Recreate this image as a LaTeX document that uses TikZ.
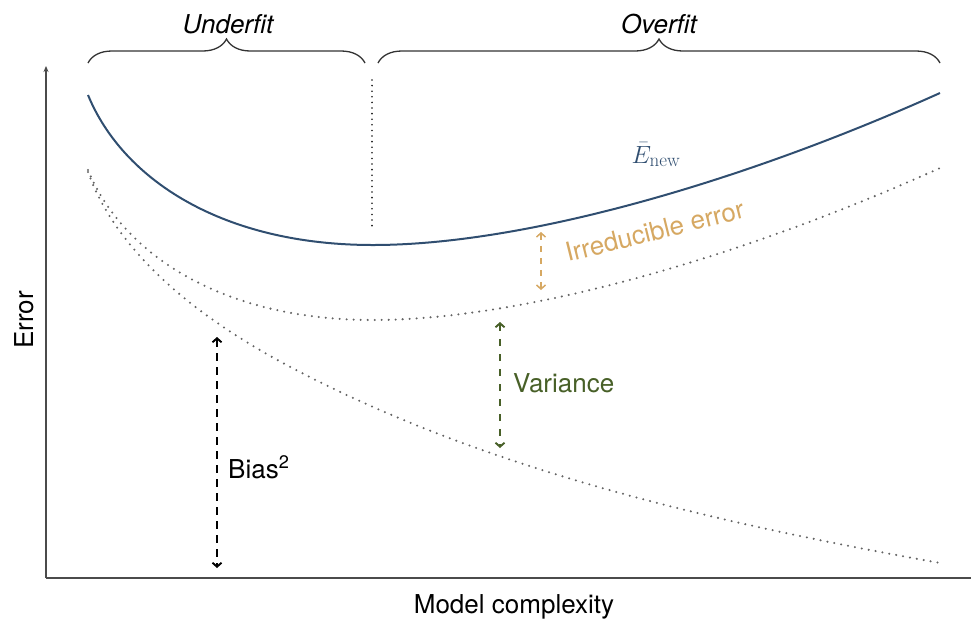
\documentclass[tikz,border=0pt]{standalone}
\usepackage{fontspec}
\usetikzlibrary{arrows.meta,decorations.pathreplacing}
\newfontfamily\helv{TeX Gyre Heros}
\definecolor{curveblue}{RGB}{48,78,112}
\definecolor{irrtan}{RGB}{214,168,98}
\definecolor{varolive}{RGB}{72,96,40}
\definecolor{dotgray}{RGB}{100,100,100}
\definecolor{axisgray}{RGB}{75,75,75}

\begin{document}
\begin{tikzpicture}[x=1pt,y=-1pt,
  lbl/.style={font=\helv\fontsize{26}{30}\selectfont, inner sep=0pt},
  ilbl/.style={font=\helv\itshape\fontsize{26}{30}\selectfont, inner sep=0pt},
  axisline/.style={draw=axisgray, line width=2pt},
  ecurve/.style={draw=curveblue, line width=2pt},
  dotcurve/.style={draw=dotgray, line width=2.3pt, line cap=round, dash pattern=on 0pt off 7pt},
  sepline/.style={draw=black!90, line width=1.8pt, line cap=round, dash pattern=on 0pt off 5.6pt},
  brace/.style={draw=black!80, line width=1.3pt, decorate, decoration={brace, amplitude=24pt}},
  measure/.style={line width=1.9pt, dash pattern=on 8pt off 6pt,
    {Straight Barb[length=4pt,width=9pt]}-{Straight Barb[length=4pt,width=9pt]}},
]
\useasboundingbox (0,0) rectangle (971,622);

% axes
\coordinate (origin) at (46,578);
\coordinate (ytop) at (46,66);
\coordinate (xend) at (971,578);
\draw[axisline] (origin) -- (xend);
\draw[axisline, line width=1.6pt, -{Stealth[length=6pt,width=5pt]}] (origin) -- (ytop);
\node[lbl, rotate=90, anchor=base] (ylabel) at (33,320) {Error};
\node[lbl, anchor=base] (xlabel) at (514,613) {Model complexity};

% expected new-data error
\draw[ecurve] (88,95) .. controls (123,180) and (223,245) .. (373,245)
  .. controls (523,245) and (740,183) .. (940,93);

% same curve without the irreducible error
\draw[dotcurve, shift={(0,75)}] (88,95) .. controls (123,180) and (223,245) .. (373,245)
  .. controls (523,245) and (740,183) .. (940,93);

% squared bias
\draw[dotcurve] (88,172) .. controls (123,270) and (230,336) .. (300,372)
  .. controls (500,476) and (740,527) .. (940,563);

% optimum separator
\coordinate (sepTop) at (372,80);
\coordinate (sepBot) at (372,230);
\draw[sepline] (sepTop) -- (sepBot);

% braces with region labels
\coordinate (uL) at (88,63);
\coordinate (uR) at (365,63);
\coordinate (oL) at (378,63);
\coordinate (oR) at (940,63);
\draw[brace] (uL) -- (uR);
\draw[brace] (oL) -- (oR);
\node[ilbl, anchor=base] (under) at (228,33) {Underfit};
\node[ilbl, anchor=base] (over) at (659,33) {Overfit};

% curve label
\node[text=curveblue, anchor=base, inner sep=0pt] (enew) at (656,163)
  {\fontsize{23}{25}\selectfont$\bar{E}_{\mbox{\fontsize{19}{20}\selectfont new}}$};

% decomposition arrows
\coordinate (irrTop) at (541,232);
\coordinate (irrBot) at (541,290);
\draw[measure, draw=irrtan, line width=1.5pt, dash pattern=on 6pt off 6pt] (irrTop) -- (irrBot);
\node[lbl, text=irrtan, rotate=14, anchor=base west] (irrlbl) at (568,262) {Irreducible error};

\coordinate (varTop) at (500,322);
\coordinate (varBot) at (500,448);
\draw[measure, draw=varolive, dash pattern=on 7pt off 8pt] (varTop) -- (varBot);
\node[lbl, text=varolive, anchor=base west] (varlbl) at (513,392) {Variance};

\coordinate (biasTop) at (217,337);
\coordinate (biasBot) at (217,568);
\draw[measure, draw=black] (biasTop) -- (biasBot);
\node[lbl, anchor=base west] (biaslbl) at (228,478) {Bias\textsuperscript{2}};
\end{tikzpicture}
\end{document}
